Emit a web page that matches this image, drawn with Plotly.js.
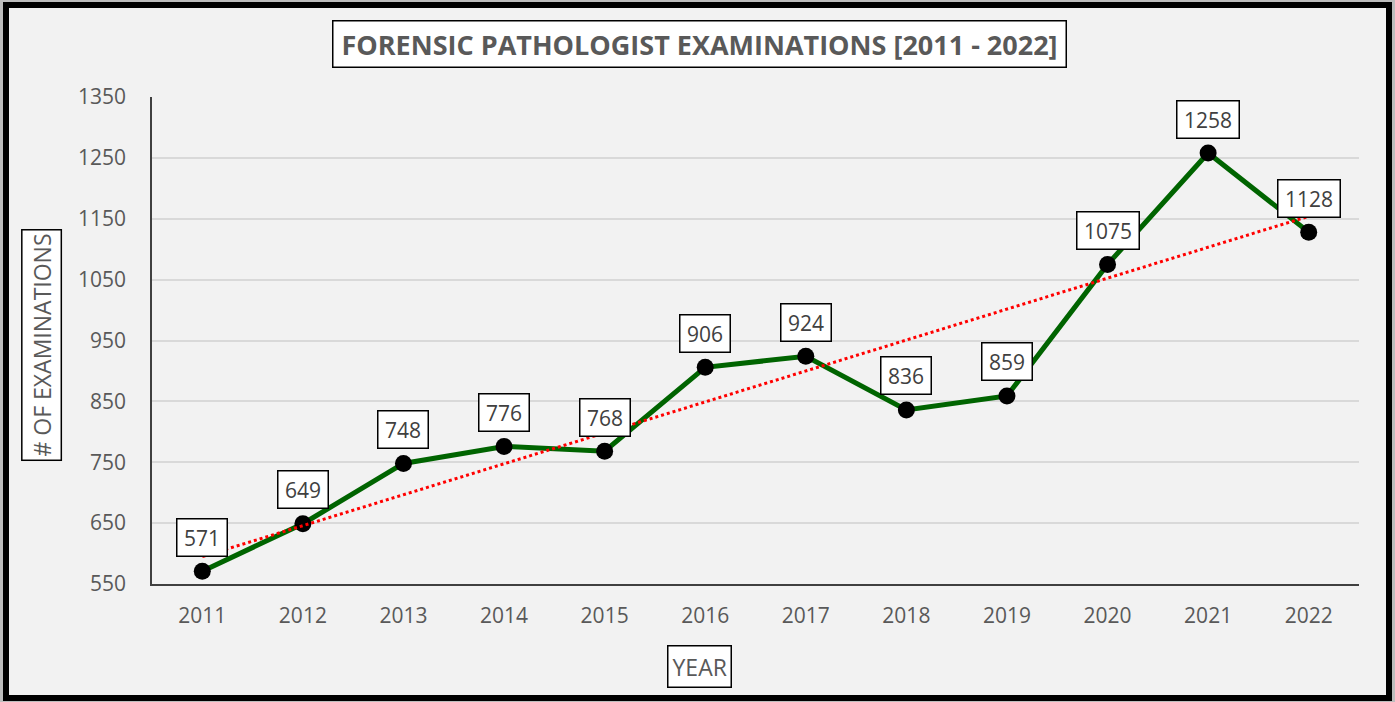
<!DOCTYPE html>
<html>
<head>
<meta charset="utf-8">
<script src="https://cdn.plot.ly/plotly-3.0.1.min.js"></script>
<style>
  html, body { margin: 0; padding: 0; background: #d4d4d4; }
  #wrap { position: relative; width: 1395px; height: 702px; overflow: hidden; }
  #chart { position: absolute; left: 0; top: 0; width: 1395px; height: 702px; }
  #frame {
    position: absolute; left: 3px; top: 2px; width: 1389px; height: 699px;
    box-sizing: border-box; border: 6px solid #000;
    box-shadow: 0 0 0 4px #bdbdbd; pointer-events: none;
  }
</style>
</head>
<body>
<div id="wrap">
  <div id="chart"></div>
  <div id="frame"></div>
</div>
<script>
// values
const years = ['2011', '2012', '2013', '2014', '2015', '2016', '2017', '2018', '2019', '2020', '2021', '2022'];
const exams = [571, 649, 748, 776, 768, 906, 924, 836, 859, 1075, 1258, 1128];

// linear trend (Excel trendline) end points
const trendYears = ['2011', '2022'];
const trendValues = [595, 1154];

const yTicks = [550, 650, 750, 850, 950, 1050, 1150, 1250, 1350];

const textGray = '#595959';
const font = 'Open Sans, Arial, sans-serif';

const traces = [
  {
    x: years,
    y: exams,
    type: 'scatter',
    mode: 'lines+markers',
    line: { color: '#006400', width: 5 },
    marker: { color: '#000000', size: 17 },
    hoverinfo: 'x+y'
  },
  {
    x: trendYears,
    y: trendValues,
    type: 'scatter',
    mode: 'lines',
    line: { color: '#ff0000', width: 3, dash: 'dot' },
    hoverinfo: 'skip'
  }
];

// value labels in white boxes above each point
// (category axis: annotations are placed by category index)
const labelAnnotations = years.map((yr, i) => ({
  x: i,
  y: exams[i],
  xref: 'x',
  yref: 'y',
  text: String(exams[i]),
  showarrow: false,
  yshift: 34,
  width: String(exams[i]).length * 12 + 5,
  font: { family: font, size: 21, color: '#404040' },
  bgcolor: '#ffffff',
  bordercolor: '#000000',
  borderwidth: 1.5,
  borderpad: 4
}));

// boxed titles
const boxedTitles = [
  {
    text: '<b>FORENSIC PATHOLOGIST EXAMINATIONS [2011 - 2022]</b>',
    x: 0.4536, y: 1.1088, textangle: 0,
    width: 724,
    font: { family: font, size: 27, color: textGray },
    borderpad: 4
  },
  {
    text: '# OF EXAMINATIONS',
    x: -0.0911, y: 0.4908, textangle: -90,
    font: { family: font, size: 23, color: textGray },
    borderpad: 3
  },
  {
    text: 'YEAR',
    x: 0.4536, y: -0.1704, textangle: 0,
    font: { family: font, size: 23, color: textGray },
    borderpad: 4
  }
].map(t => ({
  ...t,
  xref: 'paper',
  yref: 'paper',
  xanchor: 'center',
  yanchor: 'middle',
  showarrow: false,
  bgcolor: '#ffffff',
  bordercolor: '#000000',
  borderwidth: 1.5
}));

const layout = {
  width: 1395,
  height: 702,
  paper_bgcolor: '#f2f2f2',
  plot_bgcolor: '#f2f2f2',
  showlegend: false,
  margin: { l: 152, r: 36, t: 97, b: 118 },
  font: { family: font, color: textGray },
  xaxis: {
    type: 'category',
    range: [-0.5, 11.5],
    showgrid: false,
    showline: true,
    linecolor: '#404040',
    linewidth: 1.5,
    ticks: '',
    ticklabelstandoff: 12,
    tickfont: { family: font, size: 21, color: textGray },
    fixedrange: true
  },
  yaxis: {
    range: [550, 1350],
    tickvals: yTicks,
    showgrid: true,
    gridcolor: '#d9d9d9',
    gridwidth: 1.5,
    zeroline: false,
    showline: true,
    linecolor: '#404040',
    linewidth: 1.5,
    ticks: '',
    ticklabelstandoff: 20,
    tickfont: { family: font, size: 21, color: textGray },
    fixedrange: true
  },
  annotations: [...labelAnnotations, ...boxedTitles]
};

Plotly.newPlot('chart', traces, layout, { displayModeBar: false, staticPlot: false });
</script>
</body>
</html>
